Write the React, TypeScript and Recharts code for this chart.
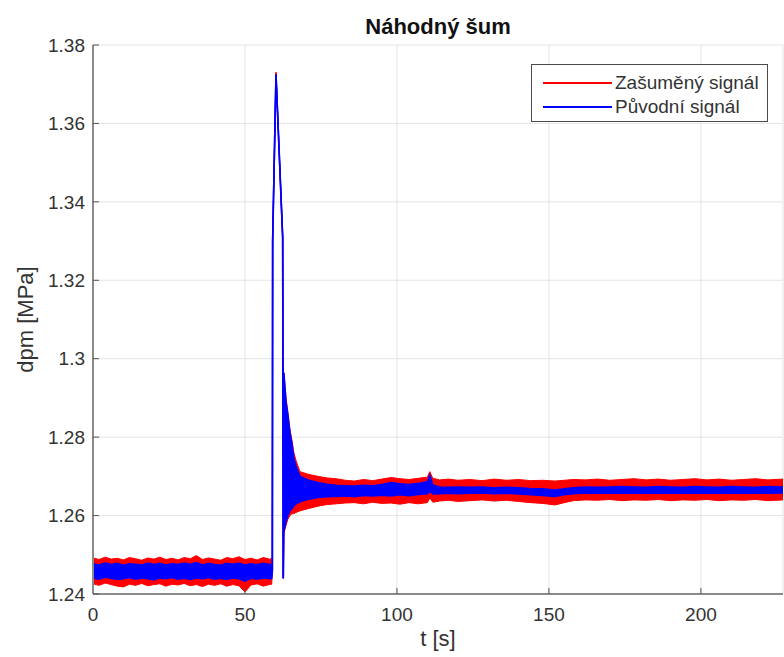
import React from 'react';
import { ComposedChart, Area, XAxis, YAxis, CartesianGrid, Legend, Label } from 'recharts';

// time [s]
const time = [
  0, 2, 4, 6, 8, 10, 12, 14, 16, 18, 20, 22, 24, 26, 28, 30, 32, 34, 36, 38, 40, 42, 44, 46, 48, 50, 52, 54, 56, 58, 58.8,
  59.0, 59.1, 60.2, 62.4, 62.6,
  62.8, 63.5, 64.1, 64.8, 65.5, 66.1, 66.8,
  68.1, 71, 74, 77, 80, 83, 86, 89, 92, 95, 98, 101, 104, 107, 110, 110.8, 111.8, 114, 117, 120,
  124, 128, 132, 136, 140, 144, 148, 152, 155, 158, 162, 166, 170, 174, 178, 182, 186, 190, 194, 198,
  202, 206, 210, 214, 218, 222, 227,
];

// noisy signal envelope (upper / lower)
const noisyHigh = [
  1.2492, 1.2488, 1.2494, 1.2489, 1.2491, 1.2487, 1.2493, 1.249, 1.2486, 1.2492, 1.2489, 1.2494, 1.2488, 1.2491, 1.2487, 1.2493, 1.249, 1.2498, 1.2488, 1.2492, 1.2489, 1.2486, 1.2493, 1.249, 1.2495, 1.2488, 1.2491, 1.2487, 1.2493, 1.2489, 1.249,
  1.2458, 1.33, 1.373, 1.331, 1.244,
  1.2964, 1.29, 1.2865, 1.282, 1.279, 1.276, 1.274,
  1.2712, 1.2705, 1.27, 1.2696, 1.2694, 1.269, 1.2688, 1.2692, 1.2689, 1.2693, 1.2697, 1.2694, 1.2692, 1.2695, 1.2698, 1.2712, 1.2695, 1.2691, 1.2693, 1.269,
  1.2692, 1.2689, 1.2693, 1.269, 1.2692, 1.2689, 1.269, 1.2688, 1.269, 1.2692, 1.2691, 1.2693, 1.269, 1.2692, 1.2694, 1.2691, 1.2693, 1.269, 1.2692, 1.2694,
  1.2691, 1.2693, 1.269, 1.2692, 1.2694, 1.2691, 1.2693,
];
const noisyLow = [
  1.2426, 1.2422, 1.2428, 1.2424, 1.242, 1.2418, 1.2425, 1.2422, 1.2427, 1.2421, 1.2424, 1.2426, 1.242, 1.2425, 1.2423, 1.2427, 1.2421, 1.2424, 1.2419, 1.2425, 1.2422, 1.2426, 1.242, 1.2424, 1.2421, 1.2405, 1.2423, 1.2426, 1.242, 1.2424, 1.2425,
  1.2458, 1.33, 1.373, 1.331, 1.244,
  1.2555, 1.2575, 1.259, 1.26, 1.2605, 1.2605, 1.2608,
  1.2612, 1.2618, 1.2624, 1.2628, 1.263, 1.2632, 1.2633, 1.263, 1.2634, 1.2631, 1.2632, 1.2629, 1.2633, 1.263, 1.2633, 1.2645, 1.2634, 1.2637, 1.2639, 1.2636,
  1.2638, 1.264, 1.2637, 1.2639, 1.2636, 1.2633, 1.2631, 1.2627, 1.2633, 1.2638, 1.264, 1.2639, 1.2641, 1.2638, 1.264, 1.2639, 1.2641, 1.2638, 1.264, 1.2639,
  1.2641, 1.2638, 1.264, 1.2639, 1.2641, 1.2638, 1.264,
];

// original signal envelope (upper / lower)
const originalHigh = [
  1.2477, 1.2474, 1.2479, 1.2475, 1.2478, 1.2473, 1.2477, 1.2476, 1.2474, 1.2479, 1.2475, 1.2478, 1.2474, 1.2477, 1.2475, 1.2479, 1.2476, 1.248, 1.2474, 1.2478, 1.2475, 1.2473, 1.2478, 1.2476, 1.2479, 1.2474, 1.2477, 1.2475, 1.2478, 1.2475, 1.2476,
  1.2458, 1.33, 1.3725, 1.331, 1.244,
  1.2964, 1.289, 1.2857, 1.281, 1.278, 1.2745, 1.2725,
  1.27, 1.269, 1.2684, 1.268, 1.2677, 1.2676, 1.2675, 1.2677, 1.2676, 1.2679, 1.2684, 1.2681, 1.2679, 1.2682, 1.2686, 1.2703, 1.2678, 1.2673, 1.2672, 1.2673,
  1.2672, 1.2673, 1.2671, 1.2672, 1.2671, 1.2669, 1.2668, 1.2665, 1.2668, 1.2671, 1.2673, 1.2672, 1.2673, 1.2674, 1.2673, 1.2672, 1.2674, 1.2673, 1.2672, 1.2674,
  1.2673, 1.2672, 1.2674, 1.2673, 1.2672, 1.2674, 1.2673,
];
const originalLow = [
  1.2441, 1.2438, 1.2443, 1.244, 1.2437, 1.2439, 1.2442, 1.2438, 1.2441, 1.2439, 1.2436, 1.2441, 1.2439, 1.2442, 1.2438, 1.244, 1.2437, 1.2441, 1.2439, 1.2442, 1.2438, 1.244, 1.2437, 1.2441, 1.2439, 1.2433, 1.244, 1.2438, 1.2441, 1.2439, 1.244,
  1.2458, 1.33, 1.3725, 1.331, 1.244,
  1.256, 1.2585, 1.26, 1.2612, 1.2618, 1.2625, 1.263,
  1.2635, 1.2642, 1.2646, 1.2648, 1.2649, 1.265, 1.2648, 1.2651, 1.265, 1.2652, 1.265, 1.2653, 1.2651, 1.2654, 1.2656, 1.2662, 1.2655, 1.2656, 1.2657, 1.2656,
  1.2657, 1.2658, 1.2656, 1.2657, 1.2655, 1.2653, 1.2651, 1.2649, 1.2653, 1.2656, 1.2658, 1.2657, 1.2658, 1.2657, 1.2658, 1.2657, 1.2658, 1.2657, 1.2658, 1.2657,
  1.2658, 1.2657, 1.2658, 1.2657, 1.2658, 1.2657, 1.2658,
];

const xTicks = [0, 50, 100, 150, 200];
const yTicks = [1.24, 1.26, 1.28, 1.3, 1.32, 1.34, 1.36, 1.38];
const seriesNames = ['Zašuměný signál', 'Původní signál'];
const seriesColors = ['#ff0000', '#0000ff'];

const data = time.map((t, i) => ({
  t,
  noisy: [noisyLow[i], noisyHigh[i]],
  original: [originalLow[i], originalHigh[i]],
}));

const FONT = '"Liberation Sans", Arial, Helvetica, sans-serif';
const AXIS = '#8a8a8a';
const TEXT = '#333333';

const renderLegend = () => (
  <div
    style={{
      width: 237,
      height: 58,
      boxSizing: 'border-box',
      border: '1px solid #4a4a4a',
      background: '#ffffff',
      position: 'relative',
      fontFamily: FONT,
    }}
  >
    {seriesNames.map((n, i) => (
      <div
        key={n}
        style={{ position: 'absolute', left: 0, top: 6 + i * 24, height: 24, display: 'flex', alignItems: 'center', whiteSpace: 'nowrap' }}
      >
        <span style={{ display: 'inline-block', marginLeft: 11, width: 69, height: 2, background: seriesColors[i] }} />
        <span style={{ marginLeft: 3, fontSize: 19, color: TEXT, lineHeight: '24px' }}>{n}</span>
      </div>
    ))}
  </div>
);

export default function App() {
  return (
    <div style={{ position: 'absolute', left: 0, top: 0, width: 784, height: 657, background: '#fff', fontFamily: FONT }}>
      <div
        style={{
          position: 'absolute',
          left: 93,
          width: 690,
          top: 14,
          height: 26,
          lineHeight: '26px',
          textAlign: 'center',
          fontWeight: 'bold',
          fontSize: 22,
          color: '#111',
        }}
      >
        Náhodný šum
      </div>
      <ComposedChart width={784} height={657} data={data} margin={{ top: 45, right: 1, bottom: 0, left: 0 }}>
        <CartesianGrid stroke="#e4e4e4" strokeWidth={1} />
        <XAxis
          dataKey="t"
          type="number"
          domain={[0, 227]}
          ticks={xTicks}
          allowDataOverflow
          height={63}
          stroke={AXIS}
          axisLine={{ stroke: AXIS, strokeWidth: 2 }}
          tickLine={{ stroke: '#555', strokeWidth: 1 }}
          tickSize={-6}
          tickMargin={20}
          tick={{ fill: TEXT, fontSize: 19, fontFamily: FONT }}
        >
          <Label
            content={() => (
              <text x={438} y={646} textAnchor="middle" fontSize={22} fill={TEXT} fontFamily={FONT}>
                t [s]
              </text>
            )}
          />
        </XAxis>
        <XAxis
          xAxisId="top"
          orientation="top"
          dataKey="t"
          type="number"
          domain={[0, 227]}
          ticks={xTicks}
          allowDataOverflow
          height={0}
          axisLine={{ stroke: AXIS, strokeWidth: 2 }}
          tickLine={{ stroke: '#555', strokeWidth: 1 }}
          tickSize={-6}
          tick={false}
        />
        <YAxis
          type="number"
          domain={[1.24, 1.38]}
          ticks={yTicks}
          allowDataOverflow
          width={93}
          axisLine={{ stroke: AXIS, strokeWidth: 2 }}
          tickLine={{ stroke: '#555', strokeWidth: 1 }}
          tickSize={-6}
          tickMargin={14}
          tick={{ fill: TEXT, fontSize: 19, fontFamily: FONT }}
          tickFormatter={(v: number) => String(Number(v.toFixed(2)))}
        >
          <Label
            content={() => (
              <text
                x={25}
                y={319.5}
                transform="rotate(-90 25 319.5)"
                textAnchor="middle"
                dominantBaseline="central"
                fontSize={22}
                fill={TEXT}
                fontFamily={FONT}
              >
                dpm [MPa]
              </text>
            )}
          />
        </YAxis>
        <YAxis
          yAxisId="right"
          orientation="right"
          type="number"
          domain={[1.24, 1.38]}
          ticks={yTicks}
          allowDataOverflow
          width={0}
          axisLine={{ stroke: AXIS, strokeWidth: 2 }}
          tickLine={{ stroke: '#555', strokeWidth: 1 }}
          tickSize={-6}
          tick={false}
        />
        <Legend
          layout="horizontal"
          verticalAlign="middle"
          align="center"
          content={renderLegend}
          wrapperStyle={{ left: 531, top: 64, width: 237, height: 58 }}
        />
        <Area
          name={seriesNames[0]}
          dataKey="noisy"
          type="linear"
          stroke={seriesColors[0]}
          strokeWidth={1}
          fill={seriesColors[0]}
          fillOpacity={1}
          isAnimationActive={false}
          dot={false}
          activeDot={false}
        />
        <Area
          name={seriesNames[1]}
          dataKey="original"
          type="linear"
          stroke={seriesColors[1]}
          strokeWidth={1.6}
          fill={seriesColors[1]}
          fillOpacity={1}
          isAnimationActive={false}
          dot={false}
          activeDot={false}
        />
      </ComposedChart>
    </div>
  );
}
